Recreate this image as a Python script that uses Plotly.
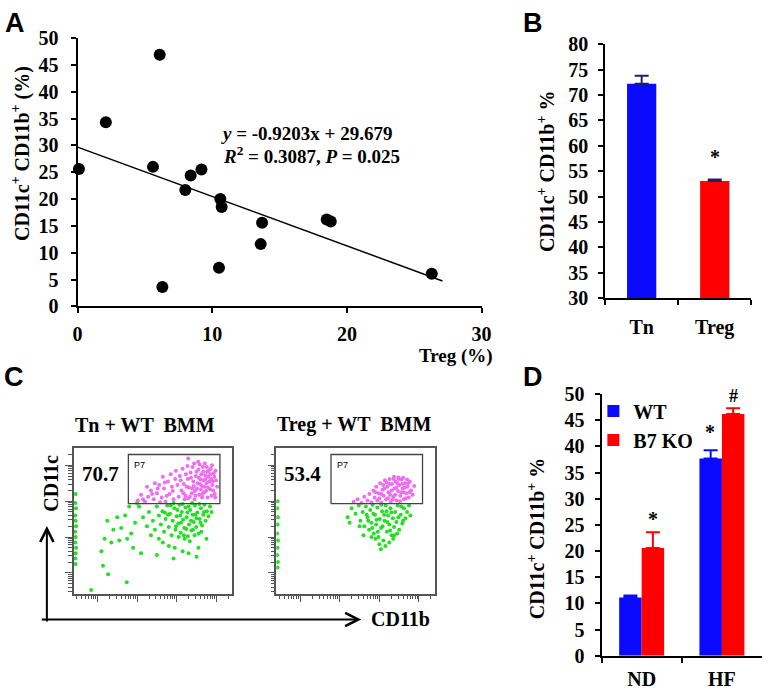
import numpy as np
import plotly.graph_objects as go

W, H = 774, 696
SERIF = "Liberation Serif"
SANS = "Liberation Sans"

# ---------------- Panel A data ----------------
treg_pct = [0.1, 2.1, 6.1, 5.6, 6.3, 8.0, 8.4, 9.2, 10.6, 10.7, 10.5, 13.7, 13.6, 18.5, 18.8, 26.3]
cd11_pct = [25.6, 34.3, 46.9, 26.0, 3.6, 21.7, 24.4, 25.5, 20.0, 18.5, 7.2, 15.6, 11.6, 16.2, 15.8, 6.1]
fit_x = [0.0, 27.1]
fit_y = [29.679, 4.74]

# ---------------- Panel B data ----------------
b_cats = ["Tn", "Treg"]
b_vals = [72.2, 53.1]
b_err = [1.6, 0.3]

# ---------------- Panel D data ----------------
d_cats = ["ND", "HF"]
d_wt = [11.1, 37.7]
d_wt_err = [0.4, 1.6]
d_ko = [20.6, 46.2]
d_ko_err = [3.0, 1.1]

# ---------------- Panel C data (log10 fluorescence) ----------------
tn_pink = """4.05,4.12 4.12,4.30 4.18,4.48 4.22,4.15 4.28,4.62 4.31,4.38 4.35,4.80 4.38,4.22 4.42,4.55 4.45,4.05
4.48,4.70 4.51,4.35 4.55,4.88 4.57,4.18 4.60,4.60 4.63,4.42 4.66,4.95 4.69,4.25 4.72,4.72 4.75,4.50
4.78,4.10 4.81,4.85 4.84,4.33 4.87,4.62 4.90,4.45 4.93,4.78 4.96,4.20 4.99,4.58 4.08,4.70 4.15,4.90
4.20,4.05 4.25,4.40 4.33,4.12 4.40,4.95 4.46,4.28 4.53,4.50 4.58,5.02 4.64,4.10 4.70,4.40 4.76,4.95
4.82,4.55 4.88,4.15 4.95,4.68 5.02,4.40 4.36,4.65 4.43,4.42 4.50,4.82 4.62,4.75 4.68,4.58 4.74,4.28
4.80,4.68 4.86,4.90 4.92,4.30 4.98,4.85 4.02,4.45 4.10,4.58 4.17,4.22 4.23,4.75 4.29,4.08 4.39,4.35
4.47,4.15 4.56,4.65 4.61,4.32 4.67,4.82 4.73,4.62 4.79,4.38 4.85,4.75 4.91,4.55 4.97,4.10 4.54,5.10
4.71,5.05 4.44,5.05 4.89,5.00 4.27,4.98 4.59,4.48 4.65,4.20 4.77,4.82 3.02,4.02 3.10,4.18 3.20,3.98
3.28,4.12 3.35,4.30 3.42,4.05 3.50,4.22 3.56,4.45 3.62,4.10 3.68,4.35 3.72,3.98 3.78,4.55 3.82,4.20
3.88,4.40 3.92,4.05 3.96,4.62 3.45,4.50 3.65,4.68 3.85,4.75 3.75,4.15 3.58,3.97 3.90,4.28 3.98,4.85
3.70,4.52 3.52,4.35 3.38,4.20 3.15,4.05 3.25,4.40 4.29,5.19"""

tn_green = """3.50,3.85 3.55,3.60 3.60,3.35 3.64,3.72 3.68,3.15 3.72,3.50 3.76,3.88 3.80,3.28 3.83,3.65 3.87,3.05
3.90,3.45 3.94,3.80 3.97,3.20 4.00,3.58 4.04,3.38 4.07,3.90 4.10,3.12 4.13,3.70 4.16,3.48 4.19,3.25
4.22,3.82 4.25,3.55 4.28,3.02 4.31,3.35 4.34,3.75 4.37,3.18 4.40,3.62 4.43,3.42 4.46,3.88 4.49,3.28
4.52,3.68 4.55,3.10 4.58,3.50 4.61,3.80 4.64,3.32 4.67,3.62 4.70,3.90 4.73,3.45 4.76,3.72 4.80,3.58
4.84,3.85 4.88,3.70 3.78,3.62 3.92,3.95 4.02,3.75 4.15,3.92 4.27,3.68 4.39,3.95 4.50,3.52 4.62,3.15
4.05,3.00 4.20,2.95 4.33,2.88 4.45,3.05 4.36,3.45 3.98,3.30 4.11,3.40 4.24,3.22 4.57,3.92 4.69,3.70
3.85,3.88 3.70,3.68 4.47,3.62 4.09,3.60 4.30,3.85 4.18,3.05 4.41,3.20 4.60,3.40 3.05,3.85 3.15,3.55
3.30,3.70 3.40,3.45 3.45,3.20 3.25,3.30 3.35,3.05 3.55,2.95 3.65,2.85 3.80,2.75 3.95,2.70 4.15,2.60
4.30,2.55 4.55,2.70 4.75,2.95 2.95,3.40 2.85,3.10 2.75,2.95 2.70,3.60 2.60,3.25 2.55,2.90 2.50,3.55
2.40,3.20 2.35,2.85 2.25,3.45 2.18,2.95 2.10,2.60 2.90,2.70 3.10,2.55 3.50,2.50 3.92,2.40 4.50,2.45
2.14,2.20 2.27,1.96 2.74,1.74 1.84,1.52 3.00,3.95 2.80,3.85 1.45,4.20 1.44,3.95 1.46,3.80 1.44,3.60
1.45,3.45 1.46,3.30 1.44,3.15 1.45,3.00 1.44,2.85 1.46,2.70 1.45,2.55 1.44,2.40 1.45,2.25"""

treg_pink = """3.35,3.98 3.45,4.05 3.55,3.95 3.62,4.12 3.70,4.02 3.75,4.20 3.80,3.97 3.85,4.30 3.88,4.10 3.92,4.40
3.95,4.02 3.98,4.22 4.02,4.50 4.05,3.96 4.08,4.32 4.11,4.15 4.14,4.58 4.17,4.05 4.20,4.40 4.23,4.25
4.26,4.62 4.29,3.98 4.32,4.48 4.35,4.12 4.38,4.35 4.41,4.55 4.44,4.02 4.47,4.28 4.50,4.45 4.53,4.15
4.56,4.60 4.59,4.35 4.62,4.05 4.65,4.50 4.68,4.22 4.71,4.40 4.74,4.10 4.77,4.55 4.80,4.30 4.84,4.18
4.88,4.42 4.18,4.52 4.27,4.18 4.36,4.62 4.43,4.38 4.52,4.00 4.61,4.25 4.70,4.60 4.10,4.45 4.22,4.08
4.31,4.30 4.40,4.18 4.49,4.62 4.58,4.48 4.67,4.08 4.76,4.25 4.05,4.20 4.13,4.35 4.25,4.48 4.34,4.05
4.46,4.50 4.55,4.25 4.64,4.38 4.73,4.50 4.00,4.08 3.90,4.25 4.37,4.68 4.48,4.66 4.60,4.65"""

treg_green = """3.20,3.55 3.30,3.80 3.40,3.65 3.48,3.88 3.52,3.45 3.58,3.70 3.62,3.30 3.66,3.85 3.70,3.55 3.74,3.20
3.77,3.75 3.80,3.40 3.83,3.90 3.86,3.10 3.89,3.62 3.92,3.35 3.95,3.82 3.98,3.00 4.01,3.50 4.04,3.25
4.07,3.72 4.10,2.90 4.13,3.45 4.16,3.88 4.19,3.15 4.22,3.60 4.25,3.35 4.28,3.80 4.31,3.05 4.34,3.52
4.37,3.28 4.40,3.70 4.43,3.42 4.46,3.88 4.50,3.20 4.54,3.62 4.58,3.38 4.62,3.80 4.66,3.52 4.70,3.70
4.75,3.88 4.78,3.60 3.72,3.45 3.85,3.65 3.96,3.15 4.05,3.90 4.12,3.62 4.20,3.42 4.30,3.68 4.38,3.05
4.48,3.55 3.90,2.95 4.00,2.80 4.04,2.66 4.15,2.75 4.25,2.85 3.80,3.00 4.35,2.95 3.60,3.05 4.45,3.10
3.93,3.48 4.08,3.30 4.18,3.72 4.27,3.18 4.55,3.85 3.68,3.62 3.82,3.25 3.50,3.30 4.60,3.45 3.25,3.40
1.43,4.00 1.42,3.80 1.44,3.55 1.43,3.35 1.42,3.10 1.44,2.90 1.43,2.70 1.42,2.50 1.44,2.30 1.43,2.15"""

gate_left_lx = [2.78, 5.09]
gate_right_lx = [2.78, 5.09]
gate_ly = [3.93, 5.30]
gate_pct = ["70.7", "53.4"]


def pairs(s):
    pts = [tuple(map(float, p.split(","))) for p in s.split()]
    return [p[0] for p in pts], [p[1] for p in pts]


def px(x):
    return x / W


def py(y):
    return 1 - y / H


BLUE = "#0a0aff"
RED = "#ff0000"
PINK = "#f06cf0"
GREEN = "#22e022"

fig = go.Figure()

# ---- Panel A ----
fig.add_trace(go.Scatter(x=fit_x, y=fit_y, mode="lines", line=dict(color="black", width=1.5),
                         xaxis="x", yaxis="y", showlegend=False, cliponaxis=False))
fig.add_trace(go.Scatter(x=treg_pct, y=cd11_pct, mode="markers",
                         marker=dict(color="black", size=12), xaxis="x", yaxis="y",
                         showlegend=False, cliponaxis=False))

# ---- Panel B ----
fig.add_trace(go.Bar(x=b_cats, y=b_vals, marker=dict(color=[BLUE, RED], line=dict(width=0)),
                     error_y=dict(type="data", symmetric=False, array=b_err, arrayminus=[0, 0],
                                  color="#202060", thickness=2, width=7),
                     xaxis="x2", yaxis="y2", showlegend=False, width=0.4))

# ---- Panel D ----
fig.add_trace(go.Bar(x=d_cats, y=d_wt, name="WT", marker=dict(color=BLUE, line=dict(width=0)),
                     error_y=dict(type="data", symmetric=False, array=d_wt_err, arrayminus=[0, 0],
                                  color=BLUE, thickness=2, width=7),
                     xaxis="x5", yaxis="y5", legend="legend"))
fig.add_trace(go.Bar(x=d_cats, y=d_ko, name="B7 KO", marker=dict(color=RED, line=dict(width=0)),
                     error_y=dict(type="data", symmetric=False, array=d_ko_err, arrayminus=[0, 0],
                                  color=RED, thickness=2, width=7),
                     xaxis="x5", yaxis="y5", legend="legend"))

# ---- Panel C ----
for (pk, gr, gx, xa, ya) in [(tn_pink, tn_green, gate_left_lx, "x3", "y3"),
                              (treg_pink, treg_green, gate_right_lx, "x4", "y4")]:
    gx_, gy_ = pairs(gr)
    fig.add_trace(go.Scatter(x=gx_, y=gy_, mode="markers", marker=dict(color=GREEN, size=4),
                             xaxis=xa, yaxis=ya, showlegend=False))
    pxs, pys = pairs(pk)
    fig.add_trace(go.Scatter(x=pxs, y=pys, mode="markers", marker=dict(color=PINK, size=4),
                             xaxis=xa, yaxis=ya, showlegend=False))
    fig.add_trace(go.Scatter(x=[gx[0], gx[1], gx[1], gx[0], gx[0]],
                             y=[gate_ly[0], gate_ly[0], gate_ly[1], gate_ly[1], gate_ly[0]],
                             mode="lines", line=dict(color="#444", width=1.3),
                             xaxis=xa, yaxis=ya, showlegend=False))

tickfont = dict(family=SERIF, size=20, color="black", weight="bold")
axcommon = dict(showline=True, linecolor="black", linewidth=2, ticks="outside", tickwidth=2,
                ticklen=5, tickcolor="black", showgrid=False, zeroline=False, tickfont=tickfont)

major = [2, 3, 4, 5]
minor_vals = [float(np.log10(k * 10 ** d)) for d in range(1, 6) for k in range(2, 10)]
flowax = dict(showline=True, linecolor="#555", linewidth=1.5, mirror=True, ticks="outside",
              tickmode="array", tickvals=major, ticklen=7, tickwidth=1.3, tickcolor="#555",
              showticklabels=False, showgrid=False, zeroline=False,
              minor=dict(tickmode="array", tickvals=minor_vals, ticks="outside", ticklen=4,
                         tickwidth=1, tickcolor="#555", showgrid=False))

fig.update_layout(
    width=W, height=H, margin=dict(l=0, r=0, t=0, b=0),
    paper_bgcolor="white", plot_bgcolor="white",
    bargap=0.44, bargroupgap=0,
    xaxis=dict(domain=[px(74), px(486)], range=[0, 30], tickvals=[0, 10, 20, 30], anchor="y",
               ticklabelstandoff=4, **axcommon),
    yaxis=dict(domain=[py(305), py(28)], range=[0, 50], dtick=5, anchor="x",
               ticklabelstandoff=8, **axcommon),
    xaxis2=dict(domain=[px(612), px(761)], range=[-0.5, 1.5], anchor="y2", type="category",
                tickson="boundaries", ticklabelstandoff=10, **axcommon),
    yaxis2=dict(domain=[py(296.7), py(34.3)], range=[30, 80], dtick=5, anchor="x2",
                ticklabelstandoff=6, **axcommon),
    xaxis5=dict(domain=[px(608.3), px(772)], range=[-0.5, 1.5], anchor="y5", type="category",
                tickson="boundaries", ticklabelstandoff=4, **axcommon),
    yaxis5=dict(domain=[py(665.7), py(395.7)], range=[0, 50], dtick=5, anchor="x5",
                ticklabelstandoff=6, **axcommon),
    xaxis3=dict(domain=[px(70), px(231.7)], range=[1.4, 5.4], anchor="y3", **flowax),
    yaxis3=dict(domain=[py(601.7), py(451.7)], range=[1.42, 5.47], anchor="x3", **flowax),
    xaxis4=dict(domain=[px(276.7), px(438.3)], range=[1.4, 5.4], anchor="y4", **flowax),
    yaxis4=dict(domain=[py(601.7), py(451.7)], range=[1.42, 5.47], anchor="x4", **flowax),
    legend=dict(x=px(600), y=py(393), xanchor="left", yanchor="top", bgcolor="rgba(0,0,0,0)",
                font=dict(family=SERIF, size=20, color="black", weight="bold"),
                itemwidth=30, tracegroupgap=0),
)

ann = []


def text(x, y, s, size=19, family=SERIF, bold=True, angle=0, xanchor="center", color="black"):
    ann.append(dict(x=px(x), y=py(y), xref="paper", yref="paper", text=s, showarrow=False,
                    textangle=angle, xanchor=xanchor, yanchor="middle",
                    font=dict(family=family, size=size, color=color,
                              weight="bold" if bold else "normal")))


# panel letters
text(10, 12, "A", size=27, family=SANS)
text(538, 12, "B", size=27, family=SANS)
text(9, 378, "C", size=27, family=SANS)
text(538, 378, "D", size=27, family=SANS)

# Panel A texts
text(397, 126, "<i>y</i> = -0.9203x + 29.679", size=19, xanchor="right")
text(405, 149, "<i>R</i><sup>2</sup> = 0.3087, <i>P</i> = 0.025", size=19, xanchor="right")
text(16, 147, "CD11c<sup>+</sup> CD11b<sup>+</sup> (%)", size=20, angle=-90)
text(460, 356, "Treg (%)", size=19)

# Panel B texts
text(551, 165, "CD11c<sup>+</sup> CD11b<sup>+</sup> %", size=20, angle=-90)
ann.append(dict(x="Treg", y=57.8, xref="x2", yref="y2", text="*", showarrow=False,
                font=dict(family=SERIF, size=20, color="black", weight="bold")))

# Panel D texts
text(541, 545, "CD11c<sup>+</sup> CD11b<sup>+</sup> %", size=20, angle=-90)
ann.append(dict(x="ND", y=26.2, xref="x5", yref="y5", xshift=11.7, text="*", showarrow=False,
                font=dict(family=SERIF, size=20, color="black", weight="bold")))
ann.append(dict(x="HF", y=42.8, xref="x5", yref="y5", xshift=-11.7, text="*", showarrow=False,
                font=dict(family=SERIF, size=20, color="black", weight="bold")))
ann.append(dict(x="HF", y=49.6, xref="x5", yref="y5", xshift=11.7, text="#", showarrow=False,
                font=dict(family=SERIF, size=18, color="black", weight="bold")))

# Panel C texts
text(142.5, 427, "Tn + WT  BMM", size=20)
text(356, 427, "Treg + WT  BMM", size=20)
text(97, 478, gate_pct[0], size=21)
text(303.5, 478, gate_pct[1], size=21)
text(130, 469, "P7", size=9, family=SANS, bold=False, xanchor="left")
text(337, 469, "P7", size=9, family=SANS, bold=False, xanchor="left")
text(46, 488, "CD11c", size=20, angle=-90)
text(403, 628, "CD11b", size=20)

# axis arrows
ann.append(dict(x=px(42.7), y=py(531.7), xref="paper", yref="paper", ax=0, ay=97,
                showarrow=True, arrowhead=5, arrowsize=1.3,
                arrowwidth=2, arrowcolor="black", text=""))
ann.append(dict(x=px(363.3), y=py(628.3), xref="paper", yref="paper", ax=-321, ay=0,
                showarrow=True, arrowhead=5, arrowsize=1.3, arrowwidth=2, arrowcolor="black",
                text=""))

fig.update_layout(annotations=ann)
fig.write_html("out.html", config={"displayModeBar": False},
               post_script="document.body.style.margin='0';document.body.style.overflow='hidden';")
